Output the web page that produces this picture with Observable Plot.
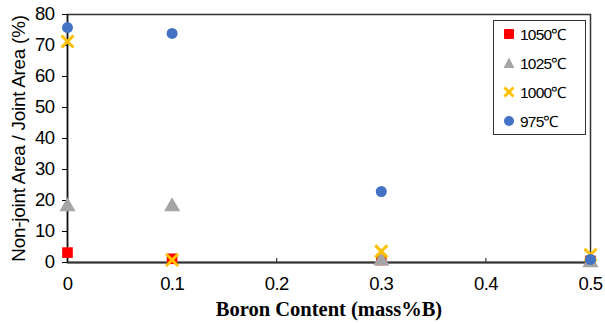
<!DOCTYPE html>
<html><head><meta charset="utf-8">
<script src="https://cdn.jsdelivr.net/npm/d3@7"></script>
<script src="https://cdn.jsdelivr.net/npm/@observablehq/plot@0.6"></script>
<style>
body{margin:0;background:#fff;}
#wrap{position:relative;width:605px;height:324px;}
svg{font-family:"Liberation Sans",Arial,sans-serif;}
svg [aria-label="x-axis label"] text{font:bold 20.5px "Liberation Serif",serif;fill:#000;}
svg [aria-label="y-axis label"] text{font:18.8px "Liberation Sans",Arial,sans-serif;letter-spacing:-0.2px;fill:#000;}
svg [aria-label="x-axis tick label"] text, svg [aria-label="y-axis tick label"] text{font-size:18.5px;letter-spacing:-0.6px;fill:#000;}
#legend{position:absolute;left:493px;top:20px;width:93px;height:115px;border:1px solid #333;box-sizing:border-box;background:#fff;font:15.5px "Liberation Sans",Arial,sans-serif;letter-spacing:-0.8px;color:#000;}
#legend .row{position:absolute;left:9px;height:20px;display:flex;align-items:center;}
#legend svg{margin-right:5px;}
</style></head><body><div id="wrap"></div>
<script>
const boron = [0, 0.1, 0.3, 0.5];
const series = ["1050℃", "1025℃", "1000℃", "975℃"];
const v1050 = [3.2, 1.2, 0.8, 0.5];
const v1025 = [18, 18, 0.5, 0.0];
const v1000 = [71.3, 0.8, 3.6, 2.5];
const v975 = [75.8, 73.9, 22.9, 1.0];
const colors = ["#ff0000", "#a5a5a5", "#ffc000", "#4472c4"];
const symbols = ["square", "triangle", "times", "circle"];
const xTicks = [0, 0.1, 0.2, 0.3, 0.4, 0.5];
const yTicks = [0, 10, 20, 30, 40, 50, 60, 70, 80];

const allVals = [v1050, v1025, v1000, v975];
const data = [];
series.forEach((s, i) => boron.forEach((b, j) => data.push({b, v: allVals[i][j], s})));

const bySeries = s => data.filter(d => d.s === s);

const marks = [
  Plot.frame({stroke: "#333", strokeWidth: 1.5}),
  Plot.axisY({ticks: yTicks, tickSize: 5, tickPadding: 8, label: "Non-joint Area / Joint Area (%)", labelArrow: "none", labelAnchor: "center", labelOffset: 56}),
  Plot.axisX({ticks: xTicks, tickSize: 0, tickPadding: 14, tickFormat: d => d === 0 ? "0" : String(d), label: "Boron Content (mass%B)", labelArrow: "none", labelAnchor: "center", labelOffset: 53}),
  Plot.ruleX(xTicks.slice(1, -1), {y1: 0, y2: 1.3, stroke: "#333", strokeWidth: 1.2}),
  Plot.ruleY([0], {stroke: "#333", strokeWidth: 2}),
  Plot.ruleX([0], {stroke: "#111", strokeWidth: 1.5}),
  Plot.dot(bySeries("1050℃"), {x: "b", y: "v", symbol: "square", fill: colors[0], r: 6}),
  Plot.dot(bySeries("1025℃"), {x: "b", y: "v", symbol: "triangle", fill: colors[1], r: 6}),
  Plot.dot(bySeries("1000℃"), {x: "b", y: "v", symbol: "times", stroke: colors[2], strokeWidth: 3, r: 5.5}),
  Plot.dot(bySeries("975℃"), {x: "b", y: "v", symbol: "circle", fill: colors[3], r: 5.5})
];

const chart = Plot.plot({
  width: 605, height: 324,
  marginLeft: 67, marginRight: 15, marginTop: 14, marginBottom: 62,
  x: {domain: [0, 0.5]},
  y: {domain: [0, 80]},
  marks
});
const wrap = document.getElementById("wrap");
wrap.appendChild(chart);

const leg = document.createElement("div");
leg.id = "legend";
const sym = {
  square: c => `<rect x="1" y="1" width="10" height="10" rx="1" fill="${c}"/>`,
  triangle: c => `<path d="M6 0.5 L11.5 11 L0.5 11 Z" fill="${c}"/>`,
  times: c => `<path d="M1.5 1.5 L10.5 10.5 M10.5 1.5 L1.5 10.5" stroke="${c}" stroke-width="3"/>`,
  circle: c => `<circle cx="6" cy="6" r="5" fill="${c}"/>`
};
series.forEach((s, i) => {
  const row = document.createElement("div");
  row.className = "row";
  row.style.top = (3 + i * 29) + "px";
  row.innerHTML = `<svg width="12" height="12" viewBox="0 0 12 12">${sym[symbols[i]](colors[i])}</svg><span>${s}</span>`;
  leg.appendChild(row);
});
wrap.appendChild(leg);
</script></body></html>
